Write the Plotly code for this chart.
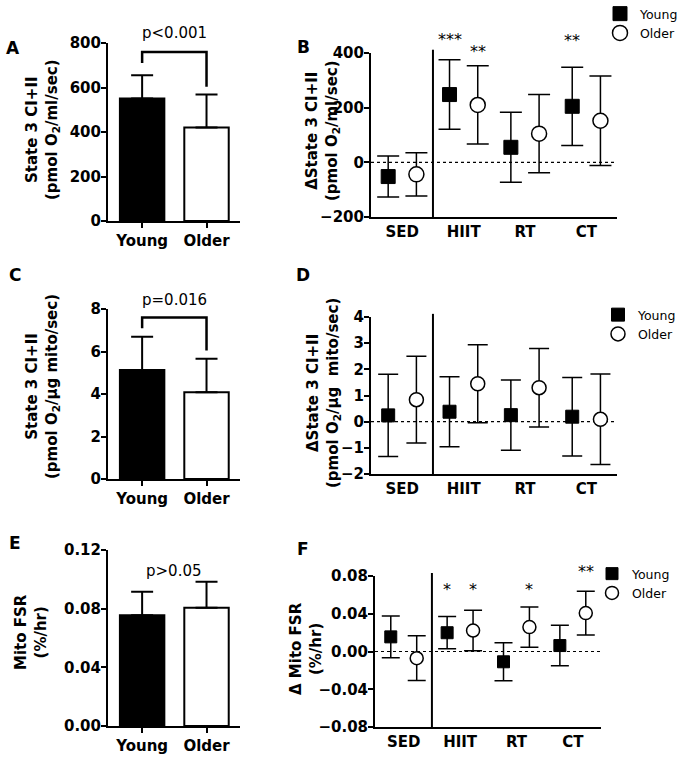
import plotly.graph_objects as go

# ---------------- data ----------------
groups = ["Young", "Older"]

# Panel A: State 3 CI+II (pmol O2/ml/sec)
a_mean = [550, 420]
a_sd = [105, 148]
a_bracket = [710, 760, 603]   # left end, top, right end
a_ptext = "p<0.001"

# Panel C: State 3 CI+II (pmol O2/ug mito/sec)
c_mean = [5.13, 4.08]
c_sd = [1.56, 1.58]
c_bracket = [7.1, 7.6, 6.05]
c_ptext = "p=0.016"

# Panel E: Mito FSR (%/hr)
e_mean = [0.0755, 0.0806]
e_sd = [0.0160, 0.0178]
e_ptext = "p>0.05"

training = ["SED", "HIIT", "RT", "CT"]

# Panel B: delta State 3 CI+II (pmol O2/ml/sec)
b_young = [-52, 248, 55, 205]
b_young_sd = [75, 127, 128, 143]
b_older = [-44, 210, 105, 152]
b_older_sd = [79, 143, 143, 164]
b_stars = [("HIIT", "Young", "***", 450), ("HIIT", "Older", "**", 405), ("CT", "Young", "**", 445)]

# Panel D: delta State 3 CI+II (pmol O2/ug mito/sec)
d_young = [0.24, 0.38, 0.25, 0.19]
d_young_sd = [1.57, 1.34, 1.34, 1.50]
d_older = [0.84, 1.45, 1.30, 0.09]
d_older_sd = [1.66, 1.49, 1.50, 1.73]

# Panel F: delta Mito FSR (%/hr)
f_young = [0.0155, 0.0199, -0.0109, 0.0063]
f_young_sd = [0.0222, 0.0171, 0.0201, 0.0215]
f_older = [-0.0071, 0.0222, 0.0259, 0.0407]
f_older_sd = [0.0237, 0.0215, 0.0213, 0.0231]
f_stars = [("HIIT", "Young", "*", 0.066), ("HIIT", "Older", "*", 0.066),
           ("RT", "Older", "*", 0.066), ("CT", "Older", "**", 0.085)]

# ---------------- styling ----------------
W, H = 682, 760
FONT = "DejaVu Sans"
OFFSET = 0.23

def fx(px):
    return px / W

def fy(py):
    return 1 - py / H

def px_x(a, b):
    return [fx(a), fx(b)]

def px_y(top, bottom):
    return [fy(bottom), fy(top)]

def to_paper(v, yr, ydom):
    return ydom[0] + (v - yr[0]) / (yr[1] - yr[0]) * (ydom[1] - ydom[0])

fig = go.Figure()

axis_common = dict(showline=True, linecolor="black", linewidth=2, showgrid=False,
                   zeroline=False, ticks="outside", ticklen=5, tickwidth=2, tickcolor="black",
                   tickfont=dict(family=FONT, size=15, color="black", weight="bold"))

# ---------------- bar panels ----------------
dom_A, dom_C, dom_E = px_y(43, 221), px_y(309, 479), px_y(550, 726)
rng_A, rng_C, rng_E = [0, 800], [0, 8], [0, 0.12]
bar_panels = [
    ("x", "y", a_mean, a_sd, rng_A, 200, None, dom_A),
    ("x3", "y3", c_mean, c_sd, rng_C, 2, None, dom_C),
    ("x5", "y5", e_mean, e_sd, rng_E, 0.04, ".2f", dom_E),
]
for xa, ya, mean, sd, yr, dt, fmt, ydom in bar_panels:
    fig.add_trace(go.Bar(
        x=[0, 1], y=mean, width=0.69, xaxis=xa, yaxis=ya, showlegend=False,
        marker=dict(color=["black", "white"], line=dict(color="black", width=2)),
        error_y=dict(type="data", symmetric=False, array=sd, arrayminus=[0, 0],
                     color="black", thickness=2, width=11),
    ))
    xkey = "xaxis" if xa == "x" else "xaxis" + xa[1:]
    ykey = "yaxis" if ya == "y" else "yaxis" + ya[1:]
    fig.layout[xkey] = dict(axis_common, domain=px_x(108, 240), range=[-0.53, 1.52],
                            tickvals=[0, 1], ticktext=groups, anchor=ya)
    fig.layout[ykey] = dict(axis_common, domain=ydom, range=yr, dtick=dt, tick0=0,
                            tickformat=fmt, anchor=xa, ticklabelstandoff=-3)

# ---------------- scatter panels ----------------
dom_B, dom_D, dom_F = px_y(53, 217), px_y(317, 474), px_y(576, 727)
rng_B, rng_D, rng_F = [-200, 400], [-2, 4], [-0.08, 0.08]
sc_panels = [
    ("x2", "y2", b_young, b_young_sd, b_older, b_older_sd, rng_B, 200, None,
     px_x(371, 617), dom_B, "legend", 14, 15, 11),
    ("x4", "y4", d_young, d_young_sd, d_older, d_older_sd, rng_D, 1, None,
     px_x(371, 617), dom_D, "legend2", 13, 14, 10),
    ("x6", "y6", f_young, f_young_sd, f_older, f_older_sd, rng_F, 0.04, ".2f",
     px_x(375, 601), dom_F, "legend3", 12, 13, 9),
]
for xa, ya, yv, ys, ov, os_, yr, dt, fmt, xdom, ydom, lg, sq, ci, cap in sc_panels:
    fig.add_trace(go.Scatter(
        x=[i - OFFSET for i in range(len(training))], y=yv, mode="markers", name="Young",
        xaxis=xa, yaxis=ya, legend=lg,
        marker=dict(symbol="square", size=sq, color="black", line=dict(color="black", width=1)),
        error_y=dict(type="data", array=ys, color="black", thickness=1.5, width=cap),
    ))
    fig.add_trace(go.Scatter(
        x=[i + OFFSET for i in range(len(training))], y=ov, mode="markers", name="Older",
        xaxis=xa, yaxis=ya, legend=lg,
        marker=dict(symbol="circle", size=ci, color="white", line=dict(color="black", width=1.5)),
        error_y=dict(type="data", array=os_, color="black", thickness=1.5, width=cap),
    ))
    xkey = "xaxis" + xa[1:]
    ykey = "yaxis" + ya[1:]
    fig.layout[xkey] = dict(axis_common, domain=xdom, range=[-0.51, 3.5],
                            tickvals=list(range(len(training))), ticktext=training,
                            ticks="", anchor=ya)
    fig.layout[ykey] = dict(axis_common, domain=ydom, range=yr, dtick=dt, tick0=0,
                            tickformat=fmt, anchor=xa, ticklabelstandoff=-3)
    # dotted zero line
    fig.add_shape(type="line", xref=xa + " domain", yref=ya, x0=0, x1=1, y0=0, y1=0,
                  line=dict(color="black", width=1.2, dash="dot"), layer="below")
    # divider between SED and training groups
    fig.add_shape(type="line", xref=xa, yref=ya + " domain", x0=0.5, x1=0.5, y0=0, y1=1.02,
                  line=dict(color="black", width=2))

# ---------------- brackets and p-values ----------------
for xa, ya, br in [("x", "y", a_bracket), ("x3", "y3", c_bracket)]:
    fig.add_shape(type="path", xref=xa, yref=ya,
                  path=f"M 0,{br[0]} L 0,{br[1]} L 1,{br[1]} L 1,{br[2]}",
                  line=dict(color="black", width=2.5))

ann_font = dict(family=FONT, size=15, color="black")
for xa, txt, yv, yr, ydom in [("x", a_ptext, 845, rng_A, dom_A),
                              ("x3", c_ptext, 8.42, rng_C, dom_C),
                              ("x5", e_ptext, 0.106, rng_E, dom_E)]:
    fig.add_annotation(x=0.5, y=to_paper(yv, yr, ydom), xref=xa, yref="paper", text=txt,
                       showarrow=False, font=ann_font, yanchor="middle")

# ---------------- significance stars ----------------
for stars, xa, yr, ydom in [(b_stars, "x2", rng_B, dom_B), (f_stars, "x6", rng_F, dom_F)]:
    for grp, ser, txt, yy in stars:
        xi = training.index(grp) + (-OFFSET if ser == "Young" else OFFSET)
        fig.add_annotation(x=xi, y=to_paper(yy, yr, ydom), xref=xa, yref="paper", text=txt,
                           showarrow=False, yanchor="middle",
                           font=dict(family=FONT, size=16, color="black"))

# ---------------- y-axis titles ----------------
title_font = dict(family=FONT, size=15, color="black", weight="bold")
titles = [
    (43, 130, "State 3 CI+II<br>(pmol O<sub>2</sub>/ml/sec)"),
    (322, 131, "ΔState 3 CI+II<br>(pmol O<sub>2</sub>/ml/sec)"),
    (42, 387, "State 3 CI+II<br>(pmol O<sub>2</sub>/μg mito/sec)"),
    (323, 393, "ΔState 3 CI+II<br>(pmol O<sub>2</sub>/μg  mito/sec)"),
    (31, 632, "Mito FSR<br>(%/hr)"),
    (306, 649, "Δ Mito FSR<br>(%/hr)"),
]
for xp, yp, txt in titles:
    fig.add_annotation(x=fx(xp), y=fy(yp), xref="paper", yref="paper", text=txt,
                       textangle=-90, showarrow=False, xanchor="center", yanchor="middle",
                       font=title_font)

# ---------------- panel letters ----------------
letters = [("A", 13, 48), ("B", 303, 47), ("C", 15, 275), ("D", 303, 275), ("E", 15, 543), ("F", 303, 549)]
for t, xp, yp in letters:
    fig.add_annotation(x=fx(xp), y=fy(yp), xref="paper", yref="paper", text=t,
                       showarrow=False, xanchor="center", yanchor="middle",
                       font=dict(family=FONT, size=17, color="black", weight="bold"))

# ---------------- legends ----------------
leg_common = dict(font=dict(family=FONT, size=12.5, color="black"), bgcolor="rgba(0,0,0,0)",
                  xanchor="left", yanchor="top", itemwidth=30, tracegroupgap=0)
fig.update_layout(
    legend=dict(leg_common, x=fx(600), y=fy(-1)),
    legend2=dict(leg_common, x=fx(598), y=fy(300)),
    legend3=dict(leg_common, x=fx(592), y=fy(559)),
)

fig.update_layout(width=W, height=H, margin=dict(l=0, r=0, t=0, b=0, autoexpand=False),
                  paper_bgcolor="white", plot_bgcolor="rgba(0,0,0,0)",
                  font=dict(family=FONT, color="black"), bargap=0)

# remove the default page margin so the 682x760 figure fills the window exactly
fig.write_html("out.html", config={"displayModeBar": False, "staticPlot": True},
               post_script="document.body.style.margin='0px';")
